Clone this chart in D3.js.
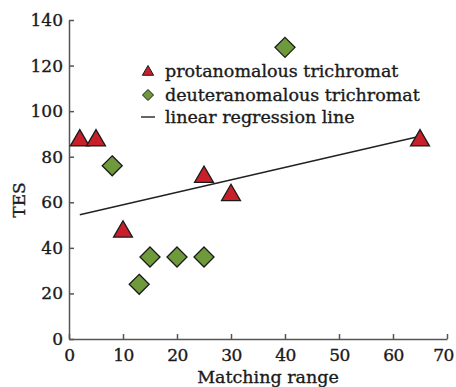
<!DOCTYPE html>
<html><head><meta charset="utf-8">
<script src="https://cdn.jsdelivr.net/npm/d3@7"></script>
<style>body{margin:0;background:#fff}svg{display:block}</style>
</head><body>
<svg id="c" width="456" height="387"></svg>
<script>
const protanX = [2, 5, 10, 25, 30, 65];
const protanY = [88, 88, 48, 72, 64, 88];
const deutanX = [8, 13, 15, 20, 25, 40];
const deutanY = [76, 24, 36, 36, 36, 128];
const regX = [2, 65];
const regY = [54.5, 89];
const xTicks = [0, 10, 20, 30, 40, 50, 60, 70];
const yTicks = [0, 20, 40, 60, 80, 100, 120, 140];
const legendLabels = ["protanomalous trichromat", "deuteranomalous trichromat", "linear regression line"];

const svg = d3.select("#c");
const font = "DejaVu Serif";
const x = d3.scaleLinear().domain([0, 70]).range([69, 447]);
const y = d3.scaleLinear().domain([0, 140]).range([339, 20]);
const axisColor = "#555";
const txt = sel => sel.attr("font-family", font).attr("fill", "#1a1a1a").attr("stroke", "#1a1a1a").attr("stroke-width", 0.35);

const gx = svg.append("g").attr("transform", `translate(0,${y(0)})`)
  .call(d3.axisBottom(x).tickValues(xTicks).tickSizeInner(-5).tickSizeOuter(0).tickPadding(8));
const gy = svg.append("g").attr("transform", `translate(${x(0)},0)`)
  .call(d3.axisLeft(y).tickValues(yTicks).tickSizeInner(-5).tickSizeOuter(0).tickPadding(6));
[gx, gy].forEach(g => {
  g.selectAll("path,line").attr("stroke", axisColor).attr("stroke-width", 1.5);
  g.selectAll("text").call(txt).attr("font-size", 17);
});
gx.selectAll("text").attr("dy", "0.85em").attr("letter-spacing", -0.5);
gx.selectAll(".tick:last-of-type text").attr("dx", -4);

svg.append("text").attr("x", 268).attr("y", 383).attr("text-anchor", "middle")
  .call(txt).attr("font-size", 17.5).text("Matching range");
svg.append("text").attr("transform", "translate(25,200) rotate(-90)").attr("text-anchor", "middle")
  .call(txt).attr("font-size", 17).text("TES");

// regression line
svg.append("line").attr("x1", x(regX[0])).attr("y1", y(regY[0]))
  .attr("x2", x(regX[1])).attr("y2", y(regY[1])).attr("stroke", "#222").attr("stroke-width", 1.5);

const red = "#c8202b", green = "#6f9a3b";
const tri = d3.symbol().type(d3.symbolTriangle).size(155);
const dia = (s) => `M0,${-s}L${s},0L0,${s}L${-s},0Z`;

svg.append("g").selectAll("path").data(deutanX.map((d, i) => [d, deutanY[i]])).join("path")
  .attr("d", dia(10)).attr("transform", d => `translate(${x(d[0])},${y(d[1])})`)
  .attr("fill", green).attr("stroke", "#1a1a1a").attr("stroke-width", 1.3);
svg.append("g").selectAll("path").data(protanX.map((d, i) => [d, protanY[i]])).join("path")
  .attr("d", tri).attr("transform", d => `translate(${x(d[0])},${y(d[1]) + 2})`)
  .attr("fill", red).attr("stroke", "#1a1a1a").attr("stroke-width", 1.3);

// legend
const lg = svg.append("g");
const rows = [71, 95, 117];
lg.append("path").attr("d", d3.symbol().type(d3.symbolTriangle).size(55)).attr("transform", `translate(148,${rows[0] + 1})`)
  .attr("fill", red).attr("stroke", "#1a1a1a").attr("stroke-width", 1);
lg.append("path").attr("d", dia(5.5)).attr("transform", `translate(148,${rows[1]})`)
  .attr("fill", green).attr("stroke", "#1a1a1a").attr("stroke-width", 1);
lg.append("line").attr("x1", 141).attr("x2", 155).attr("y1", rows[2]).attr("y2", rows[2]).attr("stroke", "#333").attr("stroke-width", 1.5);
legendLabels.forEach((t, i) => {
  lg.append("text").attr("x", 165).attr("y", rows[i]).attr("dy", "0.35em")
    .call(txt).attr("font-size", 17.5).text(t);
});
</script>
</body></html>
